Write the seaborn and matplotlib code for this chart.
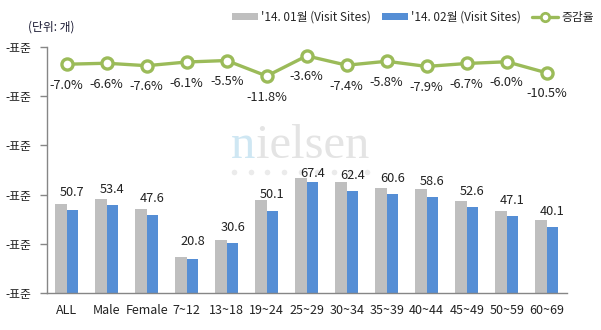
import numpy as np
import pandas as pd
import matplotlib
matplotlib.use("Agg")
import matplotlib.pyplot as plt
from matplotlib.patches import Patch
from matplotlib.lines import Line2D
import seaborn as sns

# ---- data ----
categories = ["ALL", "Male", "Female", "7~12", "13~18", "19~24", "25~29",
              "30~34", "35~39", "40~44", "45~49", "50~59", "60~69"]
feb_sites = [50.7, 53.4, 47.6, 20.8, 30.6, 50.1, 67.4,
             62.4, 60.6, 58.6, 52.6, 47.1, 40.1]
change_pct = [-7.0, -6.6, -7.6, -6.1, -5.5, -11.8, -3.6,
              -7.4, -5.8, -7.9, -6.7, -6.0, -10.5]
# January values derived from February value and the month-over-month change
jan_sites = [round(f / (1 + c / 100), 1) for f, c in zip(feb_sites, change_pct)]

series_jan = "'14. 01월 (Visit Sites)"
series_feb = "'14. 02월 (Visit Sites)"
series_rate = "증감율"
y_ticks = [0, 30, 60, 90, 120, 150]
y_tick_labels = ["-표준"] * len(y_ticks)
unit_text = "(단위: 개)"
# vertical gap (px) between each blue bar and its value label
label_gap = [17, 16, 16, 17, 15, 16, 9, 15, 15, 15, 15, 15, 16]

GRAY = "#BFBFBF"
BLUE = "#558ED5"
GREEN = "#9BBB59"
AXIS = "#868686"

sns.set_style("white")
plt.rcParams["font.family"] = ["Noto Sans CJK KR", "DejaVu Sans"]
plt.rcParams["font.size"] = 9

df = pd.DataFrame({
    "category": categories * 2,
    "series": [series_jan] * len(categories) + [series_feb] * len(categories),
    "value": jan_sites + feb_sites,
})

fig = plt.figure(figsize=(6.01, 3.30), dpi=100)
ax = fig.add_axes([46.7 / 601, 37 / 330, 520 / 601, 246 / 330])

# watermark: light-blue "n" followed by light-gray "ielsen"
renderer = fig.canvas.get_renderer()
wm_n = fig.text(231 / 601, 1 - 158 / 330, "n", fontsize=35, color="#CFE7F3",
                family="Liberation Serif", ha="left", va="baseline", zorder=0)
n_box = wm_n.get_window_extent(renderer=renderer)
fig.text((n_box.x1 + 0.5) / 601, 1 - 158 / 330, "ielsen", fontsize=35,
         color="#E4E4E4", family="Liberation Serif", ha="left", va="baseline",
         zorder=0)
dot_x = np.linspace(234 / 601, 367 / 601, 9)
fig.add_artist(Line2D(dot_x, [1 - 172 / 330] * len(dot_x), transform=fig.transFigure,
                      linestyle="none", marker="o", markersize=4,
                      markerfacecolor="#EBEBEB", markeredgecolor="none", zorder=0))
ax.patch.set_alpha(0)

sns.barplot(data=df, x="category", y="value", hue="series",
            hue_order=[series_jan, series_feb], palette=[GRAY, BLUE],
            width=0.58, gap=0, saturation=1, legend=False, ax=ax,
            linewidth=0, errorbar=None)

ax.set_ylim(0, 150)
ax.set_yticks(y_ticks)
ax.set_yticklabels(y_tick_labels)
ax.set_xlim(-0.5, len(categories) - 0.5)
ax.set_xlabel("")
ax.set_ylabel("")
for s in ["top", "right"]:
    ax.spines[s].set_visible(False)
for s in ["left", "bottom"]:
    ax.spines[s].set_color(AXIS)
    ax.spines[s].set_linewidth(1)
ax.tick_params(axis="y", length=5, width=1, color=AXIS, pad=6, labelsize=8.5,
               labelcolor="#222222")
ax.tick_params(axis="x", which="major", length=0, pad=8, labelsize=9,
               labelcolor="#222222")
ax.set_xticks(np.arange(len(categories) + 1) - 0.5, minor=True)
ax.tick_params(axis="x", which="minor", length=5, width=1, color=AXIS)

# value labels above the February bars
for i, (v, g) in enumerate(zip(feb_sites, label_gap)):
    ax.annotate(f"{v:.1f}", (i + 0.145, v), xytext=(0, g),
                textcoords="offset pixels", ha="center", va="center",
                fontsize=9.2, color="#222222")

# change rate on a hidden secondary axis
ax2 = ax.twinx()
ax2.patch.set_alpha(0)
x_pos = np.arange(len(categories))
sns.lineplot(x=x_pos, y=change_pct, ax=ax2, color=GREEN, linewidth=2.4,
             marker="o", markersize=8, markerfacecolor="white",
             markeredgecolor=GREEN, markeredgewidth=2.4, sort=False)
ax2.set_ylim(-100, 0)
ax2.set_xlim(-0.5, len(categories) - 0.5)
ax2.axis("off")
for i, r in enumerate(change_pct):
    ax2.annotate(f"{r:.1f}%", (i, r), xytext=(0, -21),
                 textcoords="offset pixels", ha="center", va="center",
                 fontsize=9.2, color="#222222")

fig.text(51 / 601, 1 - 27 / 330, unit_text, ha="center", va="center",
         fontsize=8.5, color="#1A1A33")

handles = [
    Patch(facecolor=GRAY, edgecolor="none", label=series_jan),
    Patch(facecolor=BLUE, edgecolor="none", label=series_feb),
    Line2D([], [], color=GREEN, linewidth=2.4, marker="o", markersize=6,
           markerfacecolor="white", markeredgecolor=GREEN, markeredgewidth=2,
           label=series_rate),
]
fig.legend(handles=handles, loc="center right", bbox_to_anchor=(1.0, 1 - 17 / 330),
           ncol=3, frameon=False, fontsize=8.5, handlelength=2.2, handleheight=0.6,
           handletextpad=0.3, columnspacing=0.9, borderaxespad=0.2)

fig.savefig("out.png", dpi=100)
